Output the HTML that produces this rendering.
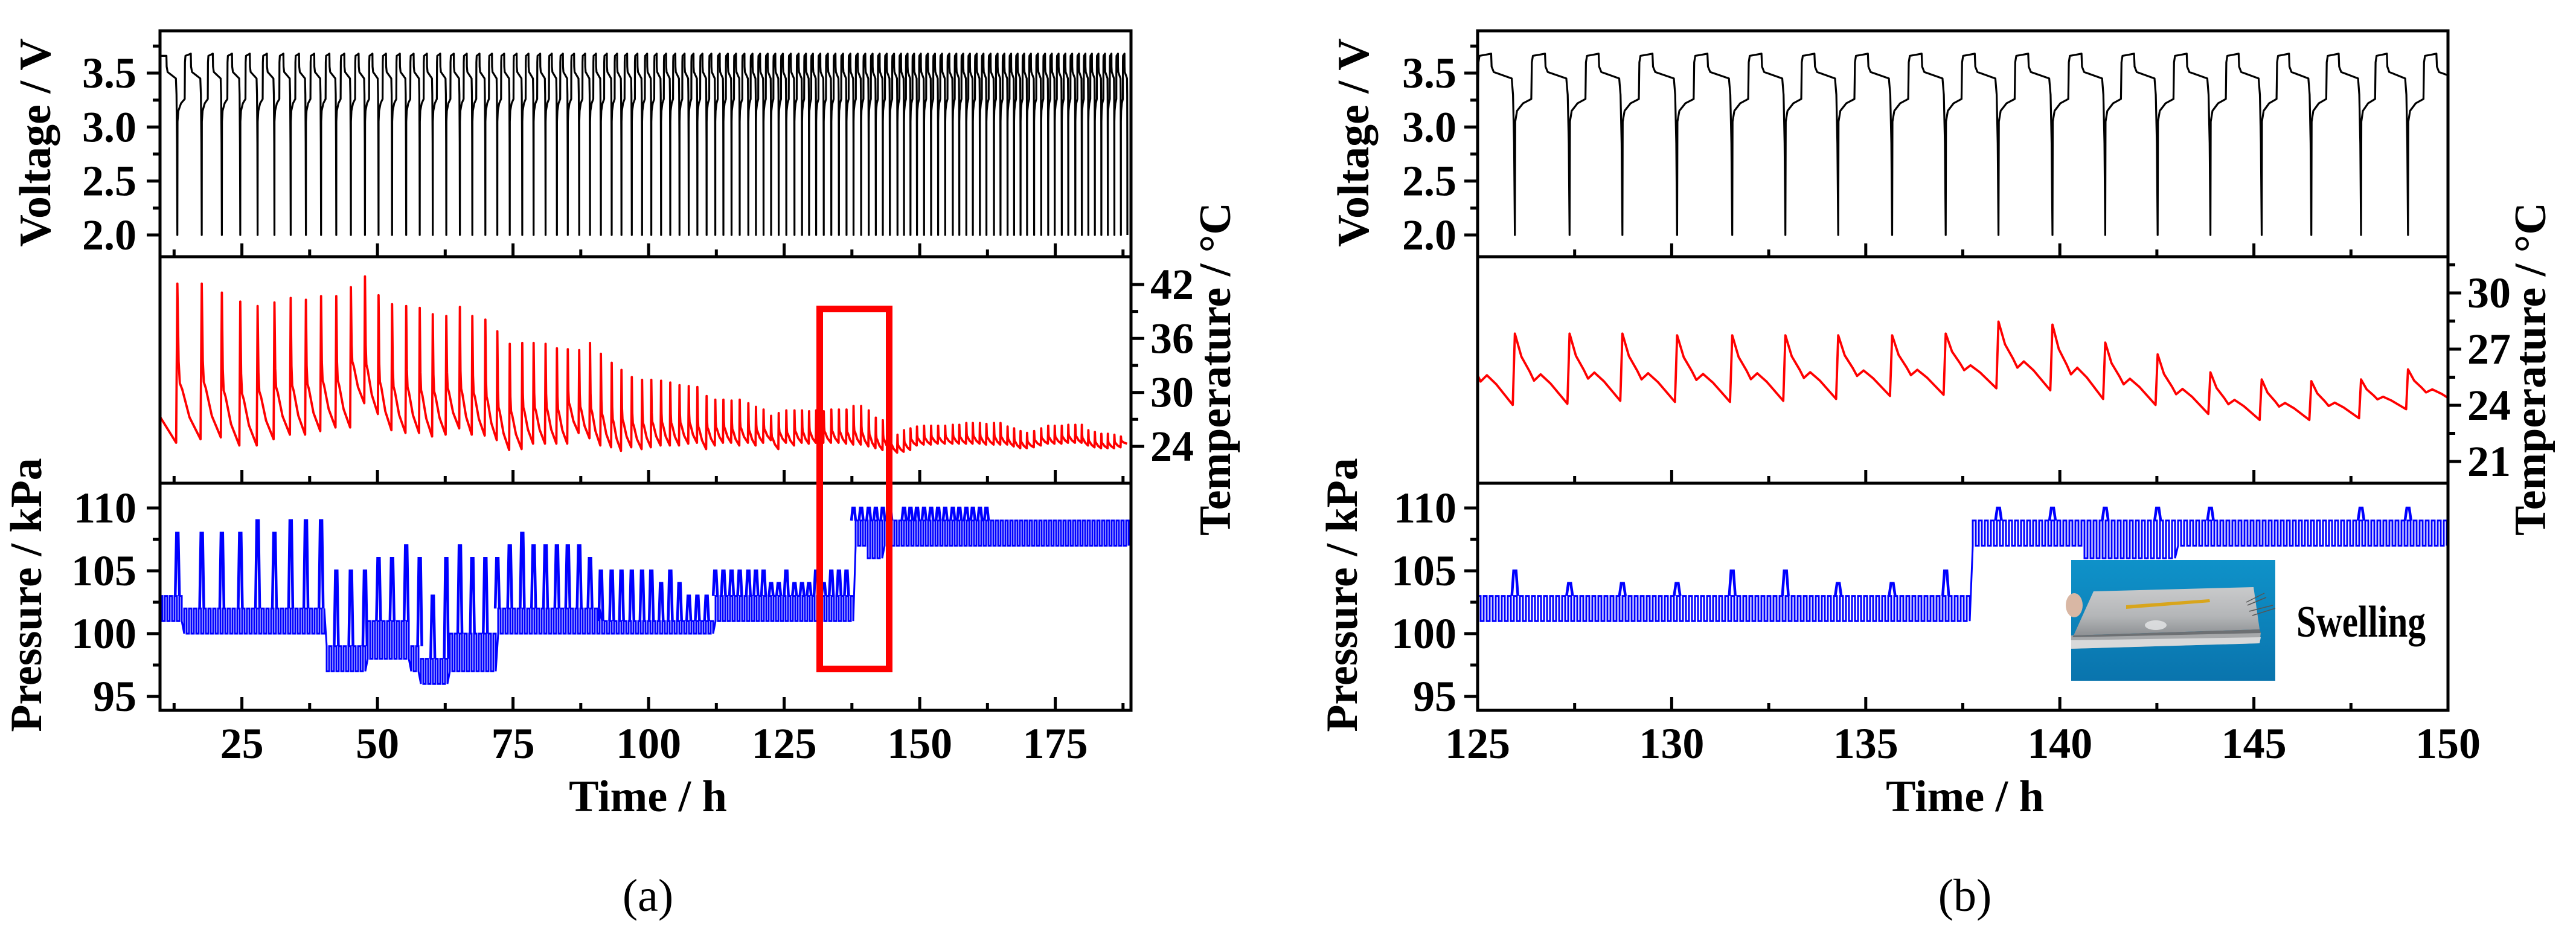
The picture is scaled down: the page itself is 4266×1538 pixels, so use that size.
<!DOCTYPE html>
<html><head><meta charset="utf-8"><style>
html,body{margin:0;padding:0;background:#fff;}
svg{display:block;font-family:"Liberation Serif","DejaVu Serif",serif;}
text{font-family:"Liberation Serif","DejaVu Serif",serif;}
</style></head><body>
<svg id="fig" xmlns="http://www.w3.org/2000/svg" width="4266" height="1538" viewBox="0 0 4266 1538" font-family="Liberation Serif, DejaVu Serif, serif">
<rect x="0" y="0" width="4266" height="1538" fill="#fff"/>
<defs>
<clipPath id="cA1"><rect x="265" y="51" width="1608" height="374"/></clipPath>
<clipPath id="cA2"><rect x="265" y="425" width="1608" height="375"/></clipPath>
<clipPath id="cA3"><rect x="265" y="800" width="1608" height="376"/></clipPath>
<clipPath id="cB1"><rect x="2447" y="51" width="1607" height="374"/></clipPath>
<clipPath id="cB2"><rect x="2447" y="425" width="1607" height="375"/></clipPath>
<clipPath id="cB3"><rect x="2447" y="800" width="1607" height="376"/></clipPath>
<linearGradient id="bgBlue" x1="0" y1="0" x2="0" y2="1"><stop offset="0" stop-color="#0f92c9"/><stop offset="1" stop-color="#0a74ad"/></linearGradient>
<linearGradient id="pouch" x1="0" y1="0" x2="0" y2="1"><stop offset="0" stop-color="#c9cacb"/><stop offset="0.6" stop-color="#b4b6b8"/><stop offset="1" stop-color="#8e9194"/></linearGradient>
</defs>
<g id="layer"></g>
</svg>
<script>
// ---------------- DATA: panel (a) ----------------
const cycA = [13.1,17.6,21.3,24.7,27.9,31.0,34.0,36.8,39.6,42.4,45.1,47.7,50.2,52.7,55.3,57.8,60.2,62.7,65.2,67.5,69.9,
72.1,74.4,76.7,78.8,81.0,83.1,85.1,87.2,89.2,91.2,93.2,95.0,96.9,98.8,100.5,102.3,104.0,105.7,107.4,109.0,110.7,112.3,113.8,115.3,116.8,118.4,119.8,121.2,122.6,124.0,125.4,126.9,128.3,129.6,
130.9,132.3,133.7,135.1,136.5,137.8,139.2,140.6,141.9,143.2,144.5,145.9,147.1,148.3,149.5,150.8,152.1,153.4,154.7,156.1,157.3,158.6,159.8,161.1,162.3,163.7,164.9,166.2,167.4,168.6,169.8,171.1,172.4,173.7,174.9,176.2,177.4,178.7,179.9,181.1,182.3,183.5,184.7,185.9,187.1];
const tempPeakA = [42.1,42.1,41.1,40.1,39.6,40.0,40.5,40.3,40.7,40.7,41.7,42.9,40.8,39.8,39.6,39.4,38.7,38.5,39.5,38.5,38.1,
36.8,35.4,35.5,35.5,35.4,34.9,34.8,34.7,35.5,34.3,33.3,32.5,31.7,31.4,31.4,31.3,31.1,30.8,30.7,30.6,29.6,29.2,29.2,29.1,29.2,28.8,28.4,28.1,27.4,27.7,28.0,28.0,28.0,27.9,
28.0,27.9,28.1,28.1,28.1,28.5,28.5,28.0,27.2,26.9,26.3,25.3,25.8,26.0,26.2,26.3,26.3,26.3,26.3,26.4,26.4,26.6,26.6,26.6,26.5,26.6,26.6,26.2,26.0,25.7,25.5,25.7,26.0,26.3,26.3,26.3,26.4,26.4,26.4,25.8,25.6,25.4,25.4,25.3,25.1];
const tempMinA = [24.4,24.8,25.0,24.1,24.1,24.8,25.3,25.3,25.7,26.1,26.1,28.8,27.6,25.8,25.5,25.5,25.1,25.3,26.0,25.3,25.2,
24.7,23.6,23.7,24.3,24.3,24.3,24.3,25.5,24.9,24.1,23.9,23.5,23.9,23.7,23.9,24.1,24.1,24.1,24.3,24.4,23.7,24.1,24.4,24.4,24.1,24.4,24.1,24.4,24.7,23.7,24.4,24.1,24.4,24.3,
24.4,24.4,24.4,24.4,24.3,24.2,24.2,24.0,23.8,23.6,23.7,23.3,23.4,23.6,24.1,24.2,24.2,24.3,24.3,24.3,24.3,24.3,24.3,24.3,24.2,24.2,24.2,24.2,24.0,23.8,23.8,23.9,24.1,24.3,24.3,24.3,24.4,24.4,24.4,24.1,23.9,23.8,23.8,23.8,23.9];
const tempStartA = [27.3];
const tempEndA = [24.3];
const presPeakA = [108,108,108,108,109,108,109,109,109,105,105,105,106,106,107,106,103,106,107,106,106,
106,107,108,107,107,107,107,107,106,105,105,105,105,105,105,104,105,104,103,103,103,105,105,105,105,105,105,105,104,104,105,104,104,104,
105,104,105,105,105,110,110,110,110,110,110,109,110,110,110,110,110,110,110,110,110,110,110,110,110,109,109,109,109,109,109,109,109,109,109,109,109,109,109,109,109,109,109,109,109];
const presSegStartA = [9.9,14,40.5,48,56,58,63,72,91,112.3,137.8,140,143.5];
const presSegLowA  = [101,100,97,98,97,96,97,100,100,101,107,106,107];
const presSegHighA = [103,102,99,101,99,98,100,102,101,103,109,109,109];

// ---------------- DATA: panel (b) ----------------
const cycB = [124.6,125.96,127.37,128.73,130.14,131.56,132.93,134.29,135.68,137.06,138.42,139.81,141.17,142.52,143.88,145.2,146.48,147.76,148.97,150.3];
const tempPeakB = [27.8,27.83,27.83,27.83,27.74,27.74,27.74,27.74,27.74,27.83,28.47,28.31,27.35,26.72,25.76,25.38,25.29,25.38,25.92,26.0];
const tempMinB = [24.0,24.02,24.08,24.24,24.18,24.18,24.24,24.34,24.5,24.56,24.91,24.8,24.34,24.02,23.54,23.22,23.22,23.31,23.79,24.08];
const tempEndB = [24.1];
const presPeakB = [103,105,104,104,104,105,105,104,104,105,110,110,110,110,110,109,109,110,110,109];
const presSegStartB = [125,137.74,140.6,143.0];
const presSegLowB  = [101,107,106,107];
const presSegHighB = [103,109,109,109];

// tick labels
const voltTicks = ["2.0","2.5","3.0","3.5"];
const presTicks = ["95","100","105","110"];
const tempTicksA = ["24","30","36","42"];
const tempTicksB = ["21","24","27","30"];
const timeTicksA = ["25","50","75","100","125","150","175"];
const timeTicksB = ["125","130","135","140","145","150"];

// ---------------- geometry ----------------
const NS='http://www.w3.org/2000/svg';
const FONT='Liberation Serif, DejaVu Serif, serif';
const layer=document.getElementById('layer');
function mk(tag, attrs, parent){const e=document.createElementNS(NS,tag);for(const k in attrs)e.setAttribute(k,attrs[k]);if(tag==='text')e.setAttribute('font-family',FONT);(parent||layer).appendChild(e);return e;}
const Y = {top:51,d1:425,d2:800,bot:1176};
const xA = t => 265 + (t-9.9)*8.98;
const xB = t => 2447 + (t-125)*64.28;
const yV = v => 121 + (3.5-v)*178.7;
const yTA = T => 739 - (T-24)*14.89;
const yTB = T => 485 - (T-30)*31;
const yP = p => 841 + (110-p)*20.8;

function pts2str(p){return p.map(q=>q[0].toFixed(1)+','+q[1].toFixed(1)).join(' ');}

const vTpl=[[0,2.0],[0.006,3.05],[0.04,3.15],[0.15,3.22],[0.3,3.26],[0.31,3.6],[0.33,3.66],[0.45,3.67],[0.55,3.68],[0.56,3.56],[0.6,3.51],[0.94,3.45],[0.965,3.3],[0.985,2.85],[1.0,2.0]];
function voltPts(cyc,xf,t0){
  const p=[[xf(t0),yV(3.66)],[xf(cyc[0]-0.45*(cyc[1]-cyc[0])),yV(3.66)]];
  const P0=cyc[1]-cyc[0];
  for(const q of vTpl){ if(q[0]>=0.56){ p.push([xf(cyc[0]-P0+q[0]*P0),yV(q[1])]); } }
  for(let i=0;i<cyc.length;i++){
    const c=cyc[i]; const P=(i<cyc.length-1)?cyc[i+1]-c:(cyc[i]-cyc[i-1]);
    for(const q of vTpl){ if(i<cyc.length-1 && q[0]===1.0) continue; p.push([xf(c+q[0]*P),yV(q[1])]); }
  }
  return p;
}
const tTplA=[[0,1],[0.05,0.5],[0.1,0.36],[0.2,0.32],[0.5,0.14],[0.95,0]];
const tTplB=[[0,1],[0.12,0.67],[0.27,0.46],[0.35,0.33],[0.47,0.42],[0.65,0.29],[0.96,0]];
function tempPts(cyc,peaks,mins,endT,tpl,xf,yf,startT,t0){
  const p=[];
  if(startT!==null){ p.push([xf(t0),yf(startT)]); p.push([xf(cyc[0]-0.05*(cyc[1]-cyc[0])),yf(mins[0])]); }
  for(let i=0;i<cyc.length;i++){
    const c=cyc[i]; const P=(i<cyc.length-1)?cyc[i+1]-c:(c-cyc[i-1]);
    const pk=peaks[i]!==undefined?peaks[i]:peaks[peaks.length-1];
    const mn=(i<cyc.length-1)?(mins[i+1]!==undefined?mins[i+1]:mins[mins.length-1]):endT;
    for(const q of tpl){ p.push([xf(c+q[0]*P), yf(mn+q[1]*(pk-mn))]); }
  }
  return p;
}
function segAt(t,starts){let k=0;for(let i=0;i<starts.length;i++){if(t>=starts[i])k=i;}return k;}
function bandPts(starts,lows,highs,xf,t0,t1,step){
  const p=[]; const x0=xf(t0), x1=xf(t1); const s=(t1-t0)/(x1-x0);
  let up=false;
  for(let x=x0;x<=x1;x+=step){
    const t=t0+(x-x0)*s; const k=segAt(t,starts);
    p.push([x,yP(up?highs[k]:lows[k])]); up=!up;
    p.push([x,yP(up?highs[k]:lows[k])]);
  }
  return p;
}

function drawPanel(cfg){
  const g=mk('g',{});
  
  
  const vl=mk('polyline',{points:pts2str(voltPts(cfg.cyc,cfg.xf,cfg.t0)),fill:'none',stroke:'#000','stroke-width':3.2,'stroke-linejoin':'round','clip-path':'url(#'+cfg.clip+'1)'},g);
  
  
  const tl=mk('polyline',{points:pts2str(tempPts(cfg.cyc,cfg.tPeak,cfg.tMin,cfg.tEnd,cfg.tTpl,cfg.xf,cfg.yT,cfg.tStart,cfg.t0)),fill:'none',stroke:'#ff0000','stroke-width':3.8,'stroke-linejoin':'round','clip-path':'url(#'+cfg.clip+'2)'},g);
  
  
  const pb=mk('polyline',{points:pts2str(bandPts(cfg.pStart,cfg.pLow,cfg.pHigh,cfg.xf,cfg.t0,cfg.t1,cfg.bandStep)),fill:'none',stroke:'#0000ff','stroke-width':3,'clip-path':'url(#'+cfg.clip+'3)'},g);
  
  
  let d='';
  for(let i=0;i<cfg.cyc.length;i++){
    const c=cfg.cyc[i]; const pk=cfg.pPeak[i]; if(pk===undefined) continue;
    const k=segAt(c,cfg.pStart); const base=cfg.pHigh[k];
    if(pk<=base) continue;
    const x=cfg.xf(c); const hw=cfg.spikeW;
    d+=`M${(x-hw).toFixed(1)},${yP(base).toFixed(1)} L${(x-hw*0.4).toFixed(1)},${yP(pk).toFixed(1)} L${(x+hw*0.4).toFixed(1)},${yP(pk).toFixed(1)} L${(x+hw).toFixed(1)},${yP(base).toFixed(1)} `;
  }
  const sp=mk('path',{d:d,fill:'none',stroke:'#0000ff','stroke-width':4.5,'clip-path':'url(#'+cfg.clip+'3)'},g);
  
  

  const x0=cfg.x0,x1=cfg.x1;
  for(const [a,b,nm] of [[Y.top,Y.d1,'voltage-plot-frame'],[Y.d1,Y.d2,'temperature-plot-frame'],[Y.d2,Y.bot,'pressure-plot-frame']]){
    const r=mk('rect',{x:x0,y:a,width:x1-x0,height:b-a,fill:'none',stroke:'#000','stroke-width':5},g);
    
    
  }
  let td='';
  for(let t=cfg.minorStart;t<=cfg.t1+0.001;t+=cfg.minorStep){
    const x=cfg.xf(t); if(x<x0-1||x>x1+1) continue;
    const major=Math.abs(((t-cfg.majorStart)/cfg.majorStep)-Math.round((t-cfg.majorStart)/cfg.majorStep))<0.01;
    const L=major?22:12;
    for(const yb of [Y.d1,Y.d2,Y.bot]) td+=`M${x.toFixed(1)},${yb} V${yb-L} `;
  }
  const xt=mk('path',{d:td,stroke:'#000','stroke-width':5,fill:'none'},g);
  
  
  cfg.timeLabels.forEach((lab)=>{
    const t=parseFloat(lab);
    const tx=mk('text',{x:cfg.xf(t),y:1255,'font-size':72,'font-weight':'bold','text-anchor':'middle'},g);
    tx.textContent=lab;
    
    
  });
  let yd='';
  for(let v=2.0;v<=3.76;v+=0.25){const y=yV(v);const major=Math.abs(v*2-Math.round(v*2))<0.01;yd+=`M${x0},${y.toFixed(1)} H${x0-(major?22:12)} `;}
  for(let p=95;p<=111;p+=2.5){const y=yP(p);if(y<Y.d2+3)continue;const major=p%5===0;yd+=`M${x0},${y.toFixed(1)} H${x0-(major?22:12)} `;}
  const yt=mk('path',{d:yd,stroke:'#000','stroke-width':5,fill:'none'},g);
  
  
  voltTicks.forEach(lab=>{
    const tx=mk('text',{x:cfg.labR,y:yV(parseFloat(lab))+24,'font-size':72,'font-weight':'bold','text-anchor':'end'},g);
    tx.textContent=lab;
    
    
  });
  presTicks.forEach(lab=>{
    const tx=mk('text',{x:cfg.labR,y:yP(parseFloat(lab))+24,'font-size':72,'font-weight':'bold','text-anchor':'end'},g);
    tx.textContent=lab;
    
    
  });
  let rd='';
  for(let T=cfg.tTickMin;T<=cfg.tTickMax+0.001;T+=cfg.tTickStep/2){
    const y=cfg.yT(T); if(y<Y.d1+3||y>Y.d2-3) continue;
    const major=Math.abs(((T-cfg.tTickMin)/cfg.tTickStep)-Math.round((T-cfg.tTickMin)/cfg.tTickStep))<0.01;
    rd+=`M${x1},${y.toFixed(1)} H${x1+(major?22:12)} `;
  }
  const rt=mk('path',{d:rd,stroke:'#000','stroke-width':5,fill:'none'},g);
  
  
  cfg.tLabels.forEach(lab=>{
    const tx=mk('text',{x:cfg.labL,y:cfg.yT(parseFloat(lab))+24,'font-size':72,'font-weight':'bold'},g);
    tx.textContent=lab;
    
    
  });
  const titles=[['Voltage / V',cfg.vtX,236,'voltage-axis-title'],['Pressure / kPa',cfg.ptX,985,'pressure-axis-title'],['Temperature / °C',cfg.ttX,611,'temperature-axis-title']];
  titles.forEach(([s,x,y,nm])=>{
    const tx=mk('text',{x:x,y:y,'font-size':74,'font-weight':'bold','text-anchor':'middle',transform:`rotate(-90 ${x} ${y})`},g);
    tx.textContent=s;
    
    
  });
  const xtl=mk('text',{x:cfg.midX,y:1343,'font-size':74,'font-weight':'bold','text-anchor':'middle'},g);
  xtl.textContent='Time / h';
  
  
  const cap=mk('text',{x:cfg.midX,y:1508,'font-size':76,'text-anchor':'middle'},g);
  cap.textContent=cfg.caption;
  
  
}

drawPanel({name:'panel-a',clip:'cA',x0:265,x1:1873,t0:9.9,t1:188.96,xf:xA,yT:yTA,
  cyc:cycA,tPeak:tempPeakA,tMin:tempMinA,tEnd:tempEndA[0],tStart:tempStartA[0],tTpl:tTplA,
  pPeak:presPeakA,pStart:presSegStartA,pLow:presSegLowA,pHigh:presSegHighA,bandStep:4,spikeW:3.5,
  minorStart:12.5,minorStep:12.5,majorStart:25,majorStep:25,timeLabels:timeTicksA,
  labR:226,labL:1905,tTickMin:24,tTickMax:45,tTickStep:6,tLabels:tempTicksA,
  vtX:83,ptX:68,ttX:2037,midX:1073,caption:'(a)'});
drawPanel({name:'panel-b',clip:'cB',x0:2447,x1:4054,t0:125,t1:150,xf:xB,yT:yTB,
  cyc:cycB,tPeak:tempPeakB,tMin:tempMinB,tEnd:tempEndB[0],tStart:null,tTpl:tTplB,
  pPeak:presPeakB,pStart:presSegStartB,pLow:presSegLowB,pHigh:presSegHighB,bandStep:5,spikeW:5,
  minorStart:125,minorStep:2.5,majorStart:125,majorStep:5,timeLabels:timeTicksB,
  labR:2412,labL:4086,tTickMin:21,tTickMax:31.5,tTickStep:3,tLabels:tempTicksB,
  vtX:2266,ptX:2247,ttX:4215,midX:3254,caption:'(b)'});

const hb=mk('rect',{x:1357.5,y:511.5,width:115,height:596,fill:'none',stroke:'#ff0000','stroke-width':11});



const ig=mk('g',{transform:'translate(3430,927)'});


mk('rect',{x:0,y:0,width:338,height:200,fill:'url(#bgBlue)'},ig);
mk('polygon',{points:'0,125 314,120 312,138 0,147',fill:'#a6a8aa'},ig);
mk('polygon',{points:'0,133 314,128 312,138 0,147',fill:'#d8d9da'},ig);
mk('polygon',{points:'37,52 302,45 312,115 4,125',fill:'url(#pouch)'},ig);
mk('polygon',{points:'4,125 312,115 314,121 2,128',fill:'#6d7073'},ig);
mk('polygon',{points:'91,75 229,65 230,70 91,81',fill:'#d8a51c'},ig);
mk('ellipse',{cx:140,cy:108,rx:18,ry:8,fill:'#e6e7e8',opacity:0.8},ig);
mk('path',{d:'M290,70 L320,55 M292,75 L323,62 M295,85 L334,75 M300,92 L338,80',stroke:'#555',fill:'none','stroke-width':1.5},ig);
mk('ellipse',{cx:5,cy:75,rx:14,ry:20,fill:'#d9b7a4'},ig);
const sw=mk('text',{x:3803,y:1054,'font-size':74,'font-weight':'bold',textLength:214,lengthAdjust:'spacingAndGlyphs'});
sw.textContent='Swelling';


</script>
</body></html>
